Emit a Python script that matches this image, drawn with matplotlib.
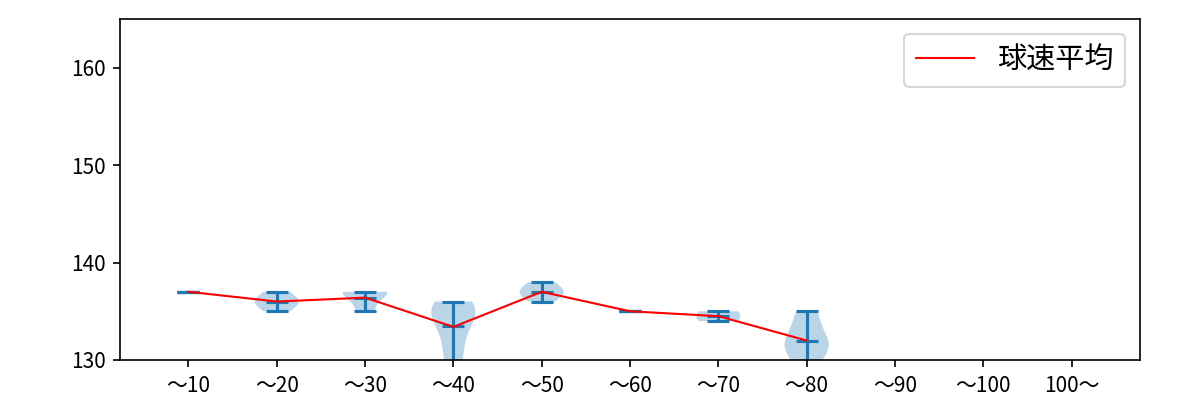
import numpy as np
import warnings
import matplotlib
matplotlib.use("Agg")
import matplotlib.pyplot as plt

plt.rcParams['font.family'] = ['Noto Sans CJK JP', 'DejaVu Sans']

categories = ["～10", "～20", "～30", "～40", "～50", "～60", "～70", "～80", "～90", "～100", "100～"]
speeds = [
    [137],
    [135, 136, 136, 137],
    [135, 136, 137, 137, 137],
    [136, 136, 136, 135, 135, 135, 134, 134, 133, 132, 131, 130, 129],
    [136, 137, 137, 138],
    [135],
    [134, 135],
    [135, 134, 132, 132, 131, 131, 129],
    [],
    [],
    [],
]
means = [137.0, 136.0, 136.4, 133.4, 137.0, 135.0, 134.5, 132.0, np.nan, np.nan, np.nan]

fig = plt.figure(figsize=(8, 8 / 3), dpi=150)
ax = fig.add_axes([0.1, 0.1, 0.85, 0.8525])

positions = np.arange(1, len(categories) + 1)
used_pos = [p for p, d in zip(positions, speeds) if len(d) > 0]
used_data = [d for d in speeds if len(d) > 0]
with warnings.catch_warnings():
    warnings.simplefilter("ignore")
    np.seterr(all="ignore")
    ax.violinplot(used_data, positions=used_pos, showmeans=True, showextrema=True)
ax.plot(positions, means, color="red", linewidth=1, label="球速平均")

ax.set_xlim(0.225, 11.775)
ax.set_ylim(130, 165)
ax.set_yticks([130, 140, 150, 160])
ax.set_xticks(positions)
ax.set_xticklabels(categories)
ax.legend(loc="upper right", fontsize=14)

fig.savefig("out.png", dpi=150)
